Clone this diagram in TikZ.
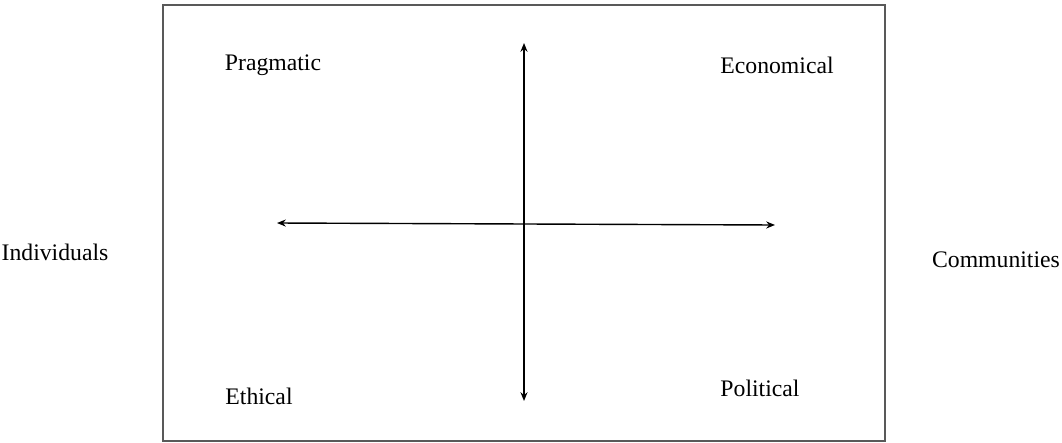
\documentclass[tikz,border=0pt]{standalone}
\usepackage{fontspec}
\setmainfont{Liberation Serif}
\usetikzlibrary{arrows.meta}

\begin{document}
\begin{tikzpicture}[x=0.02cm, y=-0.02cm, >={Stealth[length=5pt,width=4pt]},
      ax/.style={thick, <->},
      lab/.style={font=\fontsize{13.5}{16}\selectfont}]
  \useasboundingbox (0,0) rectangle (1062,443);
  % frame
  \draw[gray!70!black, thick] (163,5) rectangle (885,441);
  % axes
  \coordinate (west) at (277,223);
  \coordinate (east) at (775,225);
  \coordinate (north) at (524,43);
  \coordinate (south) at (524,401);
  \draw[ax] (west) -- (east);
  \draw[ax] (north) -- (south);
  % quadrant labels
  \node[lab] (prag) at (273,65) {Pragmatic};
  \node[lab] (econ) at (777,65) {Economical};
  \node[lab] (eth) at (259,396) {Ethical};
  \node[lab] (pol) at (760,388) {Political};
  % side labels
  \node[lab] (ind) at (55,252) {Individuals};
  \node[lab] (com) at (996,260) {Communities};
\end{tikzpicture}
\end{document}
